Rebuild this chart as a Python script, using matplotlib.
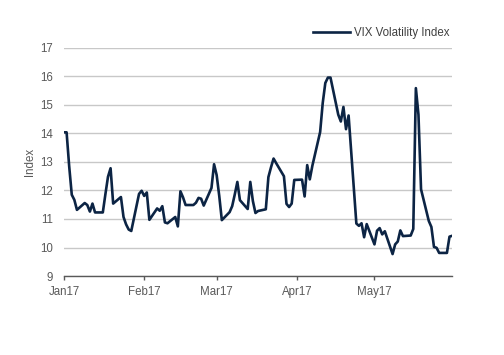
import matplotlib
matplotlib.use("Agg")
import matplotlib.pyplot as plt
import pandas as pd

dates = ["2017-01-01", "2017-01-02", "2017-01-03", "2017-01-04", "2017-01-05", "2017-01-06",
         "2017-01-09", "2017-01-10", "2017-01-11", "2017-01-12", "2017-01-13",
         "2017-01-16", "2017-01-17", "2017-01-18", "2017-01-19", "2017-01-20",
         "2017-01-23", "2017-01-24", "2017-01-25", "2017-01-26", "2017-01-27",
         "2017-01-30", "2017-01-31", "2017-02-01", "2017-02-02", "2017-02-03",
         "2017-02-06", "2017-02-07", "2017-02-08", "2017-02-09", "2017-02-10",
         "2017-02-13", "2017-02-14", "2017-02-15", "2017-02-16", "2017-02-17",
         "2017-02-20", "2017-02-21", "2017-02-22", "2017-02-23", "2017-02-24",
         "2017-02-27", "2017-02-28", "2017-03-01", "2017-03-02", "2017-03-03",
         "2017-03-06", "2017-03-07", "2017-03-08", "2017-03-09", "2017-03-10",
         "2017-03-13", "2017-03-14", "2017-03-15", "2017-03-16", "2017-03-17",
         "2017-03-20", "2017-03-21", "2017-03-22", "2017-03-23", "2017-03-24",
         "2017-03-27", "2017-03-28", "2017-03-29", "2017-03-30", "2017-03-31",
         "2017-04-03", "2017-04-04", "2017-04-05", "2017-04-06", "2017-04-07",
         "2017-04-10", "2017-04-11", "2017-04-12", "2017-04-13", "2017-04-14",
         "2017-04-17", "2017-04-18", "2017-04-19", "2017-04-20", "2017-04-21",
         "2017-04-24", "2017-04-25", "2017-04-26", "2017-04-27", "2017-04-28",
         "2017-05-01", "2017-05-02", "2017-05-03", "2017-05-04", "2017-05-05",
         "2017-05-08", "2017-05-09", "2017-05-10", "2017-05-11", "2017-05-12",
         "2017-05-15", "2017-05-16", "2017-05-17", "2017-05-18", "2017-05-19",
         "2017-05-22", "2017-05-23", "2017-05-24", "2017-05-25", "2017-05-26",
         "2017-05-29", "2017-05-30", "2017-05-31"]

vix = [14.04, 14.04, 12.85, 11.85, 11.67, 11.32,
       11.56, 11.49, 11.26, 11.54, 11.23,
       11.23, 11.87, 12.48, 12.78, 11.54,
       11.77, 11.07, 10.81, 10.63, 10.58,
       11.88, 11.99, 11.81, 11.93, 10.97,
       11.37, 11.29, 11.45, 10.88, 10.85,
       11.07, 10.74, 11.97, 11.76, 11.49,
       11.49, 11.57, 11.74, 11.71, 11.47,
       12.09, 12.92, 12.54, 11.81, 10.96,
       11.24, 11.45, 11.86, 12.30, 11.66,
       11.35, 12.30, 11.63, 11.21, 11.28,
       11.34, 12.47, 12.81, 13.12, 12.96,
       12.50, 11.53, 11.42, 11.54, 12.37,
       12.38, 11.79, 12.89, 12.39, 12.87,
       14.05, 15.07, 15.77, 15.96, 15.96,
       14.66, 14.42, 14.93, 14.15, 14.63,
       10.84, 10.76, 10.85, 10.36, 10.82,
       10.11, 10.59, 10.68, 10.46, 10.57,
       9.77, 10.11, 10.21, 10.60, 10.40,
       10.42, 10.65, 15.59, 14.66, 12.04,
       10.93, 10.72, 10.02, 9.99, 9.81,
       9.81, 10.38, 10.41]

series_name = "VIX Volatility Index"
y_ticks = [9, 10, 11, 12, 13, 14, 15, 16, 17]
month_ticks = ["2017-01-01", "2017-02-01", "2017-03-01", "2017-04-01", "2017-05-01"]
month_labels = ["Jan17", "Feb17", "Mar17", "Apr17", "May17"]

plt.rcParams['font.family'] = ['Liberation Sans', 'DejaVu Sans']

fig = plt.figure(figsize=(5.04, 3.55), dpi=100)
ax = fig.add_axes([0.127, 0.2225, 0.77, 0.6425])

x = pd.to_datetime(dates)
ax.plot(x, vix, color="#0c2444", lw=1.9, solid_joinstyle="round", label=series_name, zorder=3)

ax.set_ylim(9, 17)
ax.set_yticks(y_ticks)
ax.set_xlim(pd.Timestamp("2017-01-01"), pd.Timestamp("2017-05-31"))
ax.set_xticks(pd.to_datetime(month_ticks))
ax.set_xticklabels(month_labels)

ax.grid(axis="y", color="#c8c8c8", lw=1.0)
ax.set_axisbelow(True)
for s in ["top", "right", "left"]:
    ax.spines[s].set_visible(False)
ax.spines["bottom"].set_color("#595959")
ax.spines["bottom"].set_linewidth(1.0)
ax.tick_params(axis="y", length=0, pad=8, labelsize=8.3, labelcolor="#595959")
ax.tick_params(axis="x", length=3, width=1, color="#595959", pad=4, labelsize=8.3, labelcolor="#595959")
ax.set_ylabel("Index", fontsize=8.3, color="#595959")
ax.yaxis.set_label_coords(-0.072, 0.5)

leg = ax.legend(loc="lower right", bbox_to_anchor=(1.0, 1.03), frameon=False, fontsize=8.3,
                handlelength=3.2, handletextpad=0.4, borderaxespad=0.0, borderpad=0.2)
for t in leg.get_texts():
    t.set_color("#404040")

fig.savefig("out.png", dpi=100)
